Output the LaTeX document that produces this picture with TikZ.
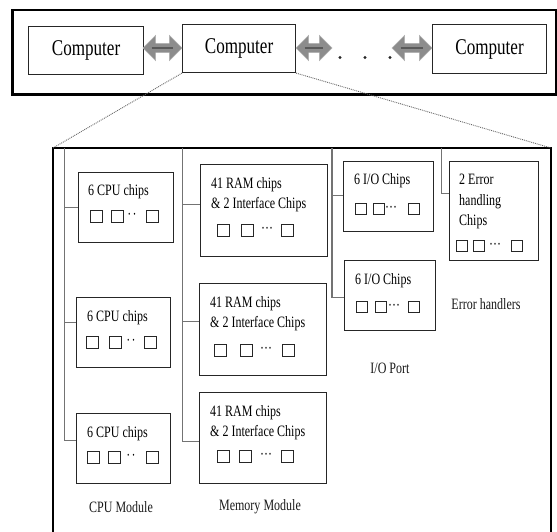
\documentclass[tikz,border=0pt]{standalone}
\usepackage{fontspec}
\setmainfont{Liberation Serif}[FakeStretch=0.76]
\usetikzlibrary{shapes.arrows,calc}
\newcommand\chiprow[8]{%
  \node[sq=#8] (#1-s1) at ([shift={(#3,#2)}]#1.north west) {};
  \node[sq=#8] (#1-s2) at ([shift={(#4,#2)}]#1.north west) {};
  \node[dotsty] (#1-d) at ([shift={(#5,#2+3)}]#1.north west) {#7};
  \node[sq=#8] (#1-s3) at ([shift={(#6,#2)}]#1.north west) {};
}
\begin{document}
\begin{tikzpicture}[x=1pt,y=-1pt,
  box/.style={draw=black!85, line width=1.1pt, inner sep=0pt, anchor=north west},
  comp/.style={box, font=\fontsize{22.5}{26}\selectfont, text=black},
  sq/.style={draw=black!85, line width=0.9pt, inner sep=0pt, anchor=west, minimum size=#1},
  sq/.default=12pt,
  txt/.style={inner sep=0pt, anchor=base west, font=\fontsize{15.8}{20}\selectfont, text=black},
  lbl/.style={inner sep=0pt, font=\fontsize{15.8}{20}\selectfont, text=black!90},
  dotsty/.style={inner sep=0pt, anchor=base, font=\fontsize{15.8}{20}\selectfont, text=black},
  bus/.style={draw=black!55, line width=1.1pt},
  link/.style={draw=black!60, densely dotted, line width=0.9pt},
  dbl/.style={double arrow, fill=black!45, draw=black!30, inner sep=4.5pt,
    double arrow head extend=8pt, minimum height=#1},
  ctr/.style={draw=black!65, line width=1.3pt},
  bigdot/.style={circle, fill=black!85, inner sep=0pt, minimum size=3.2pt}
]
\useasboundingbox[fill=white] (0,0) rectangle (557,532);

% top frame
\draw[line width=2.6pt] (12.5,10) rectangle (556,94.5);

% computers
\node[comp, minimum width=115pt, minimum height=48pt] (c1) at (28,26) {Computer};
\node[comp, minimum width=113pt, minimum height=48pt] (c2) at (182,24) {Computer};
\node[comp, minimum width=114pt, minimum height=49pt] (c3) at (432,24) {Computer};

% double arrows
\node[dbl=39pt] (a1) at (162.5,48) {};
\node[dbl=36pt] (a2) at (314,48) {};
\node[dbl=40pt] (a3) at (412,48) {};
\draw[ctr] ([xshift=9pt]a1.west) -- ([xshift=-9pt]a1.east);
\draw[ctr] ([xshift=9pt]a2.west) -- ([xshift=-9pt]a2.east);
\draw[ctr] ([xshift=9pt]a3.west) -- ([xshift=-9pt]a3.east);

% dots
\node[bigdot] (d1) at (340,57.5) {};
\node[bigdot] (d2) at (365,57.5) {};
\node[bigdot] (d3) at (390,57.5) {};

% big box
\coordinate (bbNW) at (53,148);
\coordinate (bbNE) at (551,148);
\draw[line width=2.4pt] (53,534) -- (bbNW) -- (bbNE) -- (551,534);
\draw[link] (c2.south west) -- (bbNW);
\draw[link] (c2.south east) -- (bbNE);

% CPU boxes
\node[box, minimum width=95pt, minimum height=70pt] (cpu1) at (78,172) {};
\node[box, minimum width=94pt, minimum height=70pt] (cpu2) at (76,297) {};
\node[box, minimum width=94pt, minimum height=70pt] (cpu3) at (76,413) {};
\node[txt] (cpu1-t) at ([shift={(10,23)}]cpu1.north west) {6 CPU chips};
\node[txt] (cpu2-t) at ([shift={(11,24)}]cpu2.north west) {6 CPU chips};
\node[txt] (cpu3-t) at ([shift={(11,24)}]cpu3.north west) {6 CPU chips};
\chiprow{cpu1}{44}{12}{33}{54}{68}{·\kern1.5pt·}{12pt}
\chiprow{cpu2}{45}{10}{33}{55}{68}{·\kern1.5pt·}{12pt}
\chiprow{cpu3}{44}{11}{32}{55}{70}{·\kern1.5pt·}{12pt}

% RAM boxes
\node[box, minimum width=127pt, minimum height=92pt] (ram1) at (200,164) {};
\node[box, minimum width=127pt, minimum height=92pt] (ram2) at (199,283) {};
\node[box, minimum width=127pt, minimum height=91pt] (ram3) at (199,392) {};
\foreach \r in {ram1,ram2,ram3}{
  \node[txt] (\r-t1) at ([shift={(11,24)}]\r.north west) {41 RAM chips};
  \node[txt] (\r-t2) at ([shift={(11,44)}]\r.north west) {\& 2 Interface Chips};
}
\chiprow{ram1}{66}{17}{41}{67}{81}{···}{12pt}
\chiprow{ram2}{67}{15}{41}{67}{83}{···}{12pt}
\chiprow{ram3}{64}{18}{40}{67}{82}{···}{12pt}

% I/O boxes
\node[box, minimum width=90pt, minimum height=70pt] (io1) at (343,161) {};
\node[box, minimum width=91pt, minimum height=70pt] (io2) at (344,260) {};
\node[txt] (io1-t) at ([shift={(11,24)}]io1.north west) {6 I/O Chips};
\node[txt] (io2-t) at ([shift={(11,24)}]io2.north west) {6 I/O Chips};
\chiprow{io1}{48}{12}{30}{48}{65}{···}{10.5pt}
\chiprow{io2}{47}{12}{31}{50}{64}{···}{10.5pt}

% Error box
\node[box, minimum width=89pt, minimum height=99pt] (err) at (449,161) {};
\node[txt] (err-t1) at ([shift={(10,24)}]err.north west) {2 Error};
\node[txt] (err-t2) at ([shift={(10,44)}]err.north west) {handling};
\node[txt] (err-t3) at ([shift={(10,64)}]err.north west) {Chips};
\chiprow{err}{85}{7}{24}{46}{62}{···}{10.5pt}

% buses
\coordinate (cpubus) at (64.5,148);
\coordinate (p1) at (cpu1.west);
\coordinate (p2) at ([yshift=10pt]cpu2.west);
\coordinate (p3) at ([yshift=8pt]cpu3.west);
\draw[bus] (cpubus) |- (p3);
\draw[bus] (p1 -| cpubus) -- (p1);
\draw[bus] (p2 -| cpubus) -- (p2);

\coordinate (membus) at (182.5,148);
\coordinate (m1) at ([yshift=6pt]ram1.west);
\coordinate (m2) at ([yshift=8pt]ram2.west);
\coordinate (m3) at ([yshift=-3.5pt]ram3.west);
\draw[bus] (membus) |- (m3);
\draw[bus] (m1 -| membus) -- (m1);
\draw[bus] (m2 -| membus) -- (m2);

\coordinate (iobus) at (332,148);
\coordinate (i1) at ([yshift=1pt]io1.west);
\coordinate (i2) at ([yshift=-2pt]io2.west);
\draw[bus] (iobus) |- (i2);
\draw[bus] (i1 -| iobus) -- (i1);

\coordinate (errbus) at (441.5,148);
\coordinate (e1) at ([yshift=17.5pt]err.west);
\draw[bus] (errbus) |- (e1);

% labels
\node[lbl] (lcpu) at (121,507) {CPU Module};
\node[lbl] (lmem) at (260,507) {Memory Module};
\node[lbl] (lio) at (390,368) {I/O Port};
\node[lbl] (lerr) at (486,304) {Error handlers};
\end{tikzpicture}
\end{document}
